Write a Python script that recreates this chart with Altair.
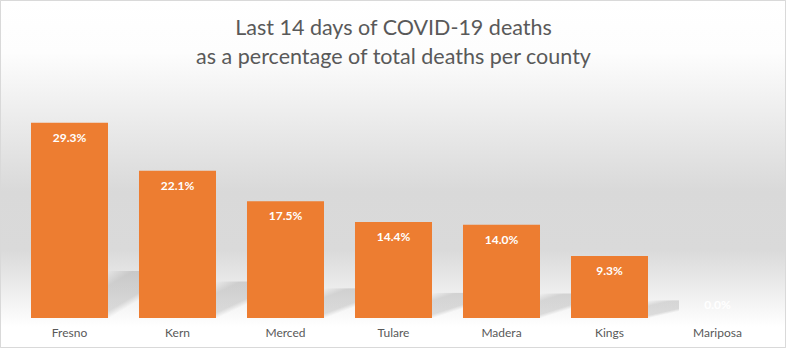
import altair as alt
import pandas as pd

counties = ["Fresno", "Kern", "Merced", "Tulare", "Madera", "Kings", "Mariposa"]
values = [29.3, 22.1, 17.5, 14.4, 14.0, 9.3, 0.0]

df = pd.DataFrame({"county": counties, "value": values})

FONT = "Lato"
W, H = 756, 200
PL, PT = 15.5, 118

x = alt.X("county:N", sort=counties, title=None,
          scale=alt.Scale(paddingInner=0.287, paddingOuter=0.1435),
          axis=alt.Axis(domain=False, ticks=False, labelAngle=0, labelPadding=9,
                        labelFont=FONT, labelFontSize=12, labelColor="#595959", zindex=1))
y = alt.Y("value:Q", title=None, scale=alt.Scale(domain=[0, 30]), axis=None)

bg = alt.Chart(df).mark_rect(
    fill=alt.Gradient(gradient="linear", x1=0, y1=0, x2=0, y2=1, stops=[
        alt.GradientStop(offset=0, color="#ffffff"),
        alt.GradientStop(offset=0.15, color="#fdfdfd"),
        alt.GradientStop(offset=0.55, color="#d9d9d9"),
        alt.GradientStop(offset=0.72, color="#dadada"),
        alt.GradientStop(offset=0.94, color="#ffffff"),
        alt.GradientStop(offset=1, color="#ffffff"),
    ]),
    stroke="#d9d9d9", strokeWidth=1,
).encode(x=alt.value(-PL + 0.5), x2=alt.value(785.5 - PL),
         y=alt.value(-PT + 0.5), y2=alt.value(347.5 - PT))

# soft floor shadow behind each bar (visible in the gap to its right)
shadow = alt.Chart(df).transform_filter("datum.value > 0").transform_calculate(
    shadow="datum.value * 0.22 + 0.6"
).mark_bar(
    width=31, xOffset=54,
    fill=alt.Gradient(gradient="linear", x1=0, y1=0, x2=0.4, y2=1, stops=[
        alt.GradientStop(offset=0, color="rgba(0,0,0,0)"),
        alt.GradientStop(offset=0.28, color="rgba(0,0,0,0.12)"),
        alt.GradientStop(offset=0.74, color="rgba(0,0,0,0.12)"),
        alt.GradientStop(offset=0.88, color="rgba(0,0,0,0)"),
        alt.GradientStop(offset=1, color="rgba(0,0,0,0)"),
    ]),
).encode(x=x, y=alt.Y("shadow:Q", scale=alt.Scale(domain=[0, 30]), axis=None))

bars = alt.Chart(df).mark_bar(color="#ED7D31").encode(x=x, y=y)

labels = alt.Chart(df).transform_filter("datum.value > 0").transform_calculate(
    label="format(datum.value, '.1f') + '%'"
).mark_text(baseline="middle", dy=15, color="white", fontWeight="bold",
            font=FONT, fontSize=12).encode(x=x, y=y, text="label:N")

zero_labels = alt.Chart(df).transform_filter("datum.value <= 0").transform_calculate(
    label="format(datum.value, '.1f') + '%'"
).mark_text(baseline="middle", dy=-13, color="white", fontWeight="bold",
            font=FONT, fontSize=12).encode(x=x, y=y, text="label:N")

chart = alt.layer(bg, shadow, bars, labels, zero_labels).properties(
    width=W, height=H,
    title=alt.TitleParams(
        text=["Last 14 days of COVID-19 deaths", "as a percentage of total deaths per county"],
        font=FONT, fontSize=21.5, fontWeight="normal", color="#595959",
        anchor="middle", lineHeight=29, offset=-68, frame="group",
    ),
    autosize=alt.AutoSizeParams(type="none"),
    padding={"left": PL, "top": PT, "right": 787 - PL - W, "bottom": 349 - PT - H},
).configure_view(stroke=None).configure(background="white")

chart.save("out.html", embed_options={"renderer": "svg", "actions": False})
